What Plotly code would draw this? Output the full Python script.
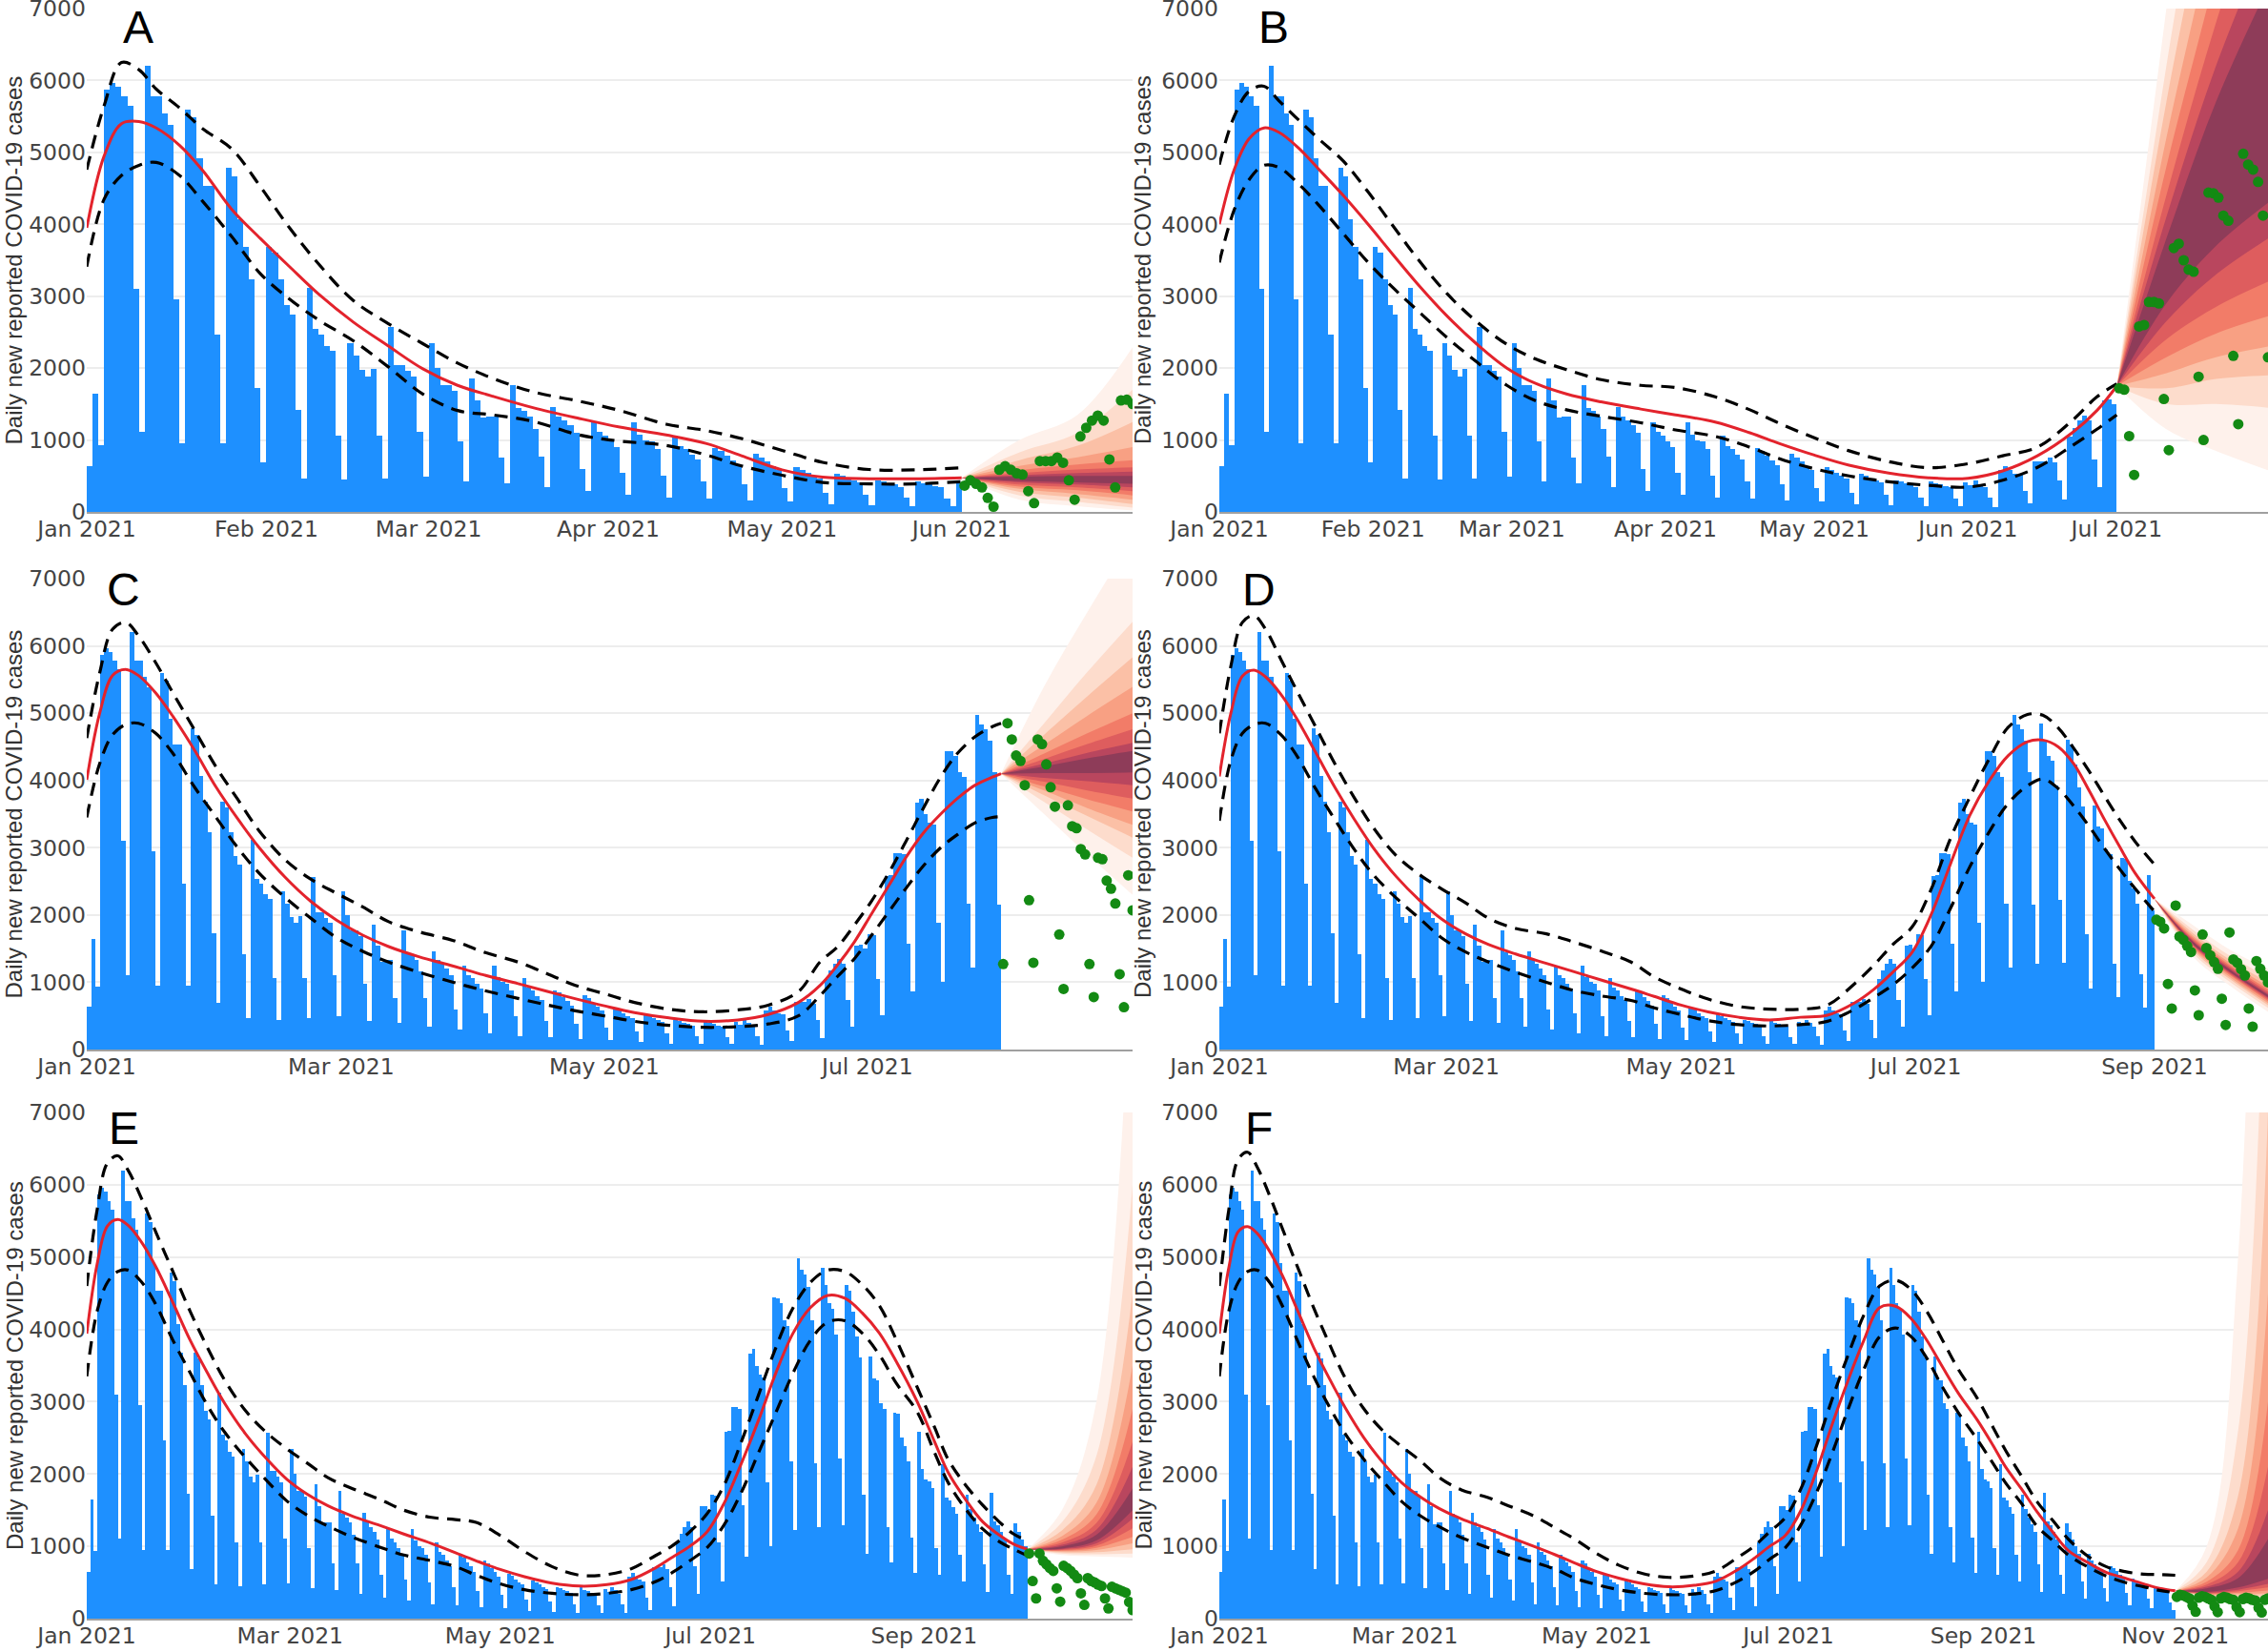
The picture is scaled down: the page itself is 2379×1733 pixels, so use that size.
import pandas as pd
import plotly.graph_objects as go

BASE = pd.Timestamp("2021-01-01")

# ---------------- daily reported cases, 2021-01-01 .. 2021-11-30 ----------------
cases = [
    640, 1650, 930,                              # Jan 1-3 (Fri-Sun)
    5870, 5960, 5910, 5780, 5650, 3100, 1110,    # Jan 4
    6200, 5780, 5780, 5540, 5380, 2950, 950,     # Jan 11
    5600, 5490, 4920, 4540, 4540, 2460, 950,     # Jan 18
    4780, 4670, 4070, 3680, 3230, 1730, 690,     # Jan 25
    3680, 3600, 3230, 2880, 2750, 1420, 470,     # Feb 1
    3120, 2540, 2460, 2310, 2240, 1060, 445,     # Feb 8
    2350, 2170, 1970, 1880, 1990, 1060, 470,     # Feb 15
    2570, 2040, 2040, 1960, 1885, 1110, 490,     # Feb 22
    2350, 2000, 1770, 1770, 1690, 980, 420,      # Mar 1
    1860, 1550, 1310, 1330, 1330, 760, 395,      # Mar 8
    1770, 1450, 1400, 1330, 1155, 770, 345,      # Mar 15
    1460, 1330, 1270, 1200, 1100, 600, 295,      # Mar 22
    1240, 1110, 1060, 980, 900, 540, 245,        # Mar 29
    1240, 1080, 1000, 980, 880, 500, 200,        # Apr 5
    1060, 920, 880, 800, 730, 430, 180,          # Apr 12
    885, 850, 780, 720, 650, 380, 160,           # Apr 19
    810, 760, 700, 640, 580, 330, 140,           # Apr 26
    620, 590, 540, 500, 470, 270, 110,           # May 3
    530, 500, 470, 440, 410, 240, 90,            # May 10
    440, 420, 400, 380, 350, 200, 80,            # May 17
    430, 400, 380, 360, 340, 190, 80,            # May 24
    415, 365, 440, 390, 340, 195, 73,            # May 31
    585, 635, 585, 537, 520, 290, 122,           # Jun 7
    707, 707, 707, 756, 683, 440, 170,           # Jun 14
    1050, 1170, 1270, 1340, 1270, 730, 340,      # Jun 21
    1550, 1560, 1500, 1720, 1700, 1055, 515,     # Jun 28
    2580, 2600, 2920, 2920, 2900, 1570, 860,     # Jul 5
    3670, 3730, 3500, 3370, 3340, 1880, 1000,    # Jul 12
    4440, 4430, 4370, 4120, 4050, 2170, 1220,    # Jul 19
    4980, 4830, 4760, 4590, 4120, 2150, 1270,    # Jul 26
    4850, 4610, 4370, 4290, 3930, 2220, 1290,    # Aug 2
    4610, 4540, 4240, 3900, 3610, 1710, 900,     # Aug 9
    3630, 3320, 3290, 2980, 2900, 1270, 780,     # Aug 16
    2850, 2830, 2510, 2390, 2170, 1120, 630,     # Aug 23
    2590, 2070, 1930, 1900, 1800, 975, 610,      # Aug 30
    2140, 1680, 1630, 1540, 1450, 880, 510,      # Sep 6
    1710, 1510, 1400, 1300, 1200, 755, 365,      # Sep 13
    1740, 1340, 1290, 1195, 1100, 610, 340,      # Sep 20
    1315, 1200, 1100, 1000, 900, 520, 280,       # Sep 27
    900, 800, 750, 700, 660, 420, 235,           # Oct 4
    730, 700, 660, 610, 560, 350, 190,           # Oct 11
    560, 520, 500, 470, 450, 280, 140,           # Oct 18
    440, 420, 400, 380, 360, 230, 117,           # Oct 25
    300, 330, 320, 300, 280, 180, 95,            # Nov 1
    290, 310, 300, 280, 260, 170, 90,            # Nov 8
    280, 300, 290, 270, 260, 160, 90,            # Nov 15
    270, 290, 280, 260, 250, 150, 85,            # Nov 22
    260, 280,                                    # Nov 29-30
]

panels = ["A", "B", "C", "D", "E", "F"]
train_end = dict(A=151, B=181, C=212, D=243, E=273, F=304)        # first forecast day
view_end = dict(A=180.5, B=211.5, C=242.5, D=272.5, E=303.5, F=333.5)
tick_step = dict(A="M1", B="M1", C="M2", D="M2", E="M2", F="M2")

# ---------------- fitted curves (day of year, value) ----------------
fit_days_A = [0, 3, 6, 9, 12, 16, 20, 25, 30, 35, 40, 46, 52, 58, 64, 70, 77, 85, 92, 100, 107, 113, 120, 127, 135, 143, 151]
fit_mid_A = [3950, 4950, 5400, 5430, 5340, 5100, 4750, 4210, 3800, 3410, 3030, 2640, 2310, 1990, 1760, 1610, 1450, 1300, 1180, 1070, 950, 780, 585, 485, 462, 462, 475]
fit_hi_A = [4760, 5650, 6250, 6150, 5880, 5620, 5330, 5050, 4520, 3950, 3450, 2940, 2620, 2340, 2070, 1860, 1670, 1540, 1410, 1220, 1130, 1020, 855, 690, 590, 585, 615]
fit_lo_A = [3410, 4350, 4680, 4820, 4860, 4680, 4320, 3830, 3310, 2960, 2670, 2380, 2020, 1640, 1410, 1350, 1260, 1070, 985, 925, 790, 640, 510, 410, 390, 390, 420]

fit_days_B = [0, 3, 6, 9, 12, 16, 20, 25, 30, 35, 40, 46, 52, 58, 64, 70, 77, 85, 92, 100, 107, 113, 120, 127, 135, 143, 151, 158, 165, 172, 177, 181]
fit_mid_B = [4000, 4760, 5190, 5340, 5280, 5060, 4770, 4400, 4000, 3580, 3170, 2720, 2330, 2000, 1780, 1640, 1530, 1430, 1350, 1250, 1100, 950, 790, 650, 540, 475, 467, 570, 780, 1100, 1410, 1750]
fit_hi_B = [4830, 5500, 5850, 5920, 5720, 5450, 5190, 4880, 4450, 3980, 3520, 3030, 2640, 2330, 2120, 1980, 1840, 1760, 1730, 1600, 1420, 1230, 1030, 850, 700, 615, 670, 780, 900, 1270, 1600, 1780]
fit_lo_B = [3470, 4200, 4620, 4820, 4790, 4560, 4270, 3870, 3470, 3120, 2800, 2420, 2080, 1760, 1540, 1420, 1330, 1240, 1140, 1050, 900, 740, 600, 500, 420, 370, 345, 440, 620, 920, 1150, 1350]

fit_days_C = [0, 3, 6, 9, 12, 16, 20, 25, 30, 35, 40, 46, 52, 58, 64, 70, 77, 85, 92, 100, 107, 113, 120, 127, 135, 143, 151, 158, 165, 170, 174, 178, 182, 186, 190, 194, 198, 202, 206, 210, 212]
fit_mid_C = [4010, 5000, 5560, 5650, 5560, 5300, 4950, 4450, 3900, 3430, 3000, 2560, 2200, 1920, 1700, 1530, 1380, 1240, 1110, 980, 860, 760, 650, 550, 470, 420, 440, 520, 700, 950, 1250, 1600, 2020, 2440, 2860, 3220, 3500, 3740, 3930, 4050, 4100]
fit_hi_C = [4630, 5600, 6250, 6350, 6150, 5750, 5300, 4750, 4200, 3720, 3250, 2820, 2530, 2320, 2120, 1900, 1750, 1620, 1450, 1300, 1120, 960, 830, 700, 600, 560, 590, 660, 860, 1300, 1520, 1850, 2210, 2630, 3100, 3590, 4050, 4410, 4650, 4800, 4850]
fit_lo_C = [3450, 4250, 4680, 4830, 4850, 4700, 4400, 3900, 3450, 3000, 2620, 2260, 1950, 1660, 1460, 1300, 1150, 1000, 880, 760, 660, 580, 500, 420, 360, 330, 340, 380, 500, 800, 1080, 1350, 1700, 2050, 2400, 2730, 3000, 3200, 3370, 3450, 3460]

fit_days_D = [0, 3, 6, 9, 12, 16, 20, 25, 30, 35, 40, 46, 52, 58, 64, 70, 77, 85, 92, 100, 107, 113, 120, 127, 135, 143, 151, 158, 165, 170, 175, 180, 185, 190, 195, 200, 205, 210, 214, 218, 222, 226, 230, 234, 238, 243]
fit_mid_D = [4060, 5000, 5550, 5640, 5540, 5280, 4930, 4420, 3900, 3430, 3000, 2570, 2220, 1930, 1720, 1560, 1420, 1280, 1160, 1020, 900, 790, 660, 560, 480, 440, 480, 510, 690, 890, 1150, 1445, 2010, 2760, 3480, 3990, 4370, 4575, 4600, 4500, 4250, 3850, 3420, 3010, 2620, 2240]
fit_hi_D = [4700, 5700, 6350, 6450, 6250, 5800, 5350, 4800, 4250, 3750, 3300, 2880, 2600, 2380, 2180, 1950, 1800, 1720, 1600, 1450, 1300, 1080, 900, 750, 640, 600, 600, 660, 975, 1250, 1560, 1820, 2385, 3140, 3750, 4315, 4790, 4980, 4970, 4780, 4480, 4140, 3770, 3410, 3090, 2750]
fit_lo_D = [3400, 4300, 4700, 4830, 4850, 4680, 4380, 3880, 3420, 2980, 2600, 2250, 1950, 1650, 1450, 1300, 1150, 1000, 880, 790, 730, 620, 520, 430, 370, 350, 370, 420, 598, 770, 960, 1210, 1540, 2100, 2715, 3230, 3660, 3920, 4020, 3880, 3620, 3320, 2990, 2680, 2390, 2050]

fit_days_E = [0, 3, 6, 9, 12, 16, 20, 25, 30, 35, 40, 46, 52, 58, 64, 70, 77, 85, 92, 100, 107, 113, 120, 127, 135, 143, 151, 158, 165, 170, 175, 180, 185, 190, 195, 200, 205, 210, 215, 220, 225, 230, 235, 241, 246, 250, 255, 260, 265, 269, 273]
fit_mid_E = [3940, 4900, 5430, 5520, 5440, 5200, 4870, 4370, 3850, 3400, 2980, 2560, 2220, 1930, 1720, 1560, 1420, 1290, 1170, 1040, 910, 800, 680, 580, 490, 450, 470, 540, 700, 850, 1000, 1200, 1600, 2150, 2750, 3400, 3950, 4300, 4470, 4430, 4230, 3950, 3550, 3000, 2450, 2020, 1650, 1340, 1150, 1030, 960]
fit_hi_E = [4600, 5650, 6300, 6400, 6200, 5800, 5350, 4800, 4250, 3750, 3300, 2880, 2580, 2350, 2150, 1950, 1800, 1650, 1500, 1400, 1370, 1330, 1150, 930, 720, 600, 610, 690, 870, 1010, 1200, 1450, 1850, 2450, 3100, 3750, 4300, 4650, 4820, 4800, 4620, 4330, 3850, 3200, 2650, 2200, 1850, 1570, 1330, 1170, 1080]
fit_lo_E = [3350, 4250, 4650, 4800, 4820, 4650, 4350, 3850, 3400, 2950, 2580, 2230, 1920, 1630, 1430, 1280, 1130, 990, 880, 800, 720, 600, 480, 400, 350, 330, 350, 400, 510, 640, 800, 980, 1300, 1750, 2300, 2850, 3400, 3850, 4100, 4120, 3950, 3650, 3250, 2860, 2300, 1880, 1520, 1240, 1060, 960, 870]

fit_days_F = [0, 3, 6, 9, 12, 16, 20, 25, 30, 35, 40, 46, 52, 58, 64, 70, 77, 85, 92, 100, 107, 113, 120, 127, 135, 143, 151, 158, 165, 170, 175, 180, 185, 190, 195, 200, 205, 210, 215, 220, 225, 230, 235, 241, 246, 250, 255, 260, 265, 270, 276, 282, 288, 294, 299, 304]
fit_mid_F = [3940, 4850, 5350, 5420, 5330, 5080, 4750, 4250, 3750, 3320, 2920, 2500, 2160, 1880, 1680, 1520, 1380, 1250, 1130, 1000, 880, 770, 650, 560, 480, 440, 460, 520, 680, 830, 1000, 1150, 1500, 2050, 2700, 3300, 3850, 4300, 4320, 4150, 3850, 3480, 3120, 2750, 2400, 2100, 1800, 1480, 1200, 940, 780, 640, 560, 480, 420, 385]
fit_hi_F = [4600, 5650, 6350, 6450, 6250, 5850, 5400, 4850, 4300, 3800, 3330, 2900, 2600, 2380, 2180, 1950, 1780, 1680, 1560, 1420, 1250, 1100, 900, 740, 620, 570, 590, 660, 850, 1000, 1200, 1400, 1800, 2400, 3050, 3650, 4200, 4600, 4680, 4550, 4250, 3850, 3450, 3050, 2650, 2330, 1980, 1620, 1360, 1100, 870, 720, 650, 615, 610, 600]
fit_lo_F = [3350, 4250, 4650, 4800, 4820, 4650, 4330, 3830, 3350, 2930, 2560, 2200, 1900, 1620, 1420, 1270, 1120, 990, 880, 780, 680, 560, 470, 400, 350, 330, 340, 390, 520, 650, 820, 980, 1300, 1750, 2300, 2900, 3450, 3900, 4020, 3900, 3600, 3200, 2850, 2480, 2150, 1880, 1600, 1280, 1080, 880, 720, 590, 500, 440, 390, 360]

fits = dict(
    A=(fit_days_A, fit_mid_A, fit_hi_A, fit_lo_A),
    B=(fit_days_B, fit_mid_B, fit_hi_B, fit_lo_B),
    C=(fit_days_C, fit_mid_C, fit_hi_C, fit_lo_C),
    D=(fit_days_D, fit_mid_D, fit_hi_D, fit_lo_D),
    E=(fit_days_E, fit_mid_E, fit_hi_E, fit_lo_E),
    F=(fit_days_F, fit_mid_F, fit_hi_F, fit_lo_F),
)

# ---------------- forecast fans: 16 quantiles (ascending) at 3 horizons ----------------
fan_days = dict(A=[151, 161, 171, 180.5], B=[181, 191, 201, 211.5], C=[212, 222, 232, 242.5],
                D=[243, 253, 263, 272.5], E=[273, 283, 293, 303.5], F=[304, 314, 324, 333.5])
fan_apex = dict(A=475, B=1750, C=4100, D=2240, E=960, F=385)
fan_q_A = [
    [170, 230, 280, 320, 350, 380, 410, 430, 490, 510, 540, 580, 640, 720, 830, 1000],
    [80, 140, 200, 250, 300, 340, 380, 410, 500, 540, 590, 660, 760, 920, 1100, 1350],
    [20, 60, 110, 170, 230, 290, 340, 390, 500, 560, 620, 720, 900, 1250, 1700, 2290],
]
fan_q_B = [
    [1150, 1500, 1720, 1930, 2150, 2400, 2650, 2900, 3800, 4100, 4400, 4800, 5200, 5700, 6200, 7000],
    [850, 1500, 1850, 2150, 2480, 2850, 3300, 3700, 5700, 6200, 6800, 7500, 8300, 9300, 10500, 12500],
    [580, 1450, 1900, 2300, 2720, 3200, 3800, 4300, 7300, 8000, 9000, 10500, 12000, 14000, 17000, 22000],
]
fan_q_C = [
    [3500, 3680, 3780, 3850, 3910, 3980, 4040, 4110, 4210, 4250, 4320, 4400, 4530, 4680, 4850, 5400],
    [2900, 3270, 3470, 3590, 3720, 3850, 3990, 4110, 4330, 4410, 4540, 4700, 4960, 5250, 5610, 6500],
    [2300, 2850, 3150, 3340, 3540, 3730, 3930, 4120, 4440, 4560, 4760, 5000, 5390, 5830, 6360, 7600],
]
fan_q_D = [
    [1380, 1430, 1470, 1500, 1520, 1540, 1555, 1570, 1600, 1615, 1635, 1660, 1690, 1730, 1780, 1850],
    [930, 990, 1030, 1060, 1090, 1110, 1125, 1140, 1170, 1190, 1215, 1240, 1275, 1320, 1380, 1470],
    [560, 620, 660, 690, 720, 745, 765, 780, 810, 830, 860, 895, 940, 1000, 1080, 1200],
]
fan_q_E = [
    [880, 900, 915, 930, 940, 950, 960, 970, 1000, 1020, 1050, 1090, 1140, 1220, 1330, 1500],
    [860, 890, 920, 950, 980, 1010, 1040, 1080, 1160, 1230, 1320, 1440, 1600, 1850, 2250, 3000],
    [845, 900, 960, 1040, 1130, 1250, 1380, 1500, 1800, 2100, 2450, 2900, 3500, 4500, 6000, 9500],
]
fan_q_F = [
    [300, 310, 320, 330, 340, 350, 360, 370, 420, 440, 470, 510, 570, 650, 780, 1000],
    [280, 300, 320, 340, 360, 380, 400, 430, 560, 650, 780, 950, 1250, 1700, 2600, 5000],
    [260, 290, 320, 350, 390, 430, 480, 550, 1100, 1500, 2100, 3000, 4500, 7000, 11000, 20000],
]
fan_q = dict(A=fan_q_A, B=fan_q_B, C=fan_q_C, D=fan_q_D, E=fan_q_E, F=fan_q_F)
fan_colors = ['#FEF1EB', '#FDDCCC', '#FBC0A6', '#F8A083', '#F27C68', '#DE5D5E', '#B9465E', '#8E3C59']

y_ticks = [0, 1000, 2000, 3000, 4000, 5000, 6000, 7000]
y_title = "Daily new reported COVID-19 cases"

# ---------------- layout geometry ----------------
col_x = [[0.03825, 0.49937], [0.53762, 1.0]]
row_y = [[0.69013, 0.99481], [0.36469, 0.64974], [0.02020, 0.32660]]
letter_pos = dict(A=(0.0610, 0.9838), B=(0.5615, 0.9838), C=(0.0545, 0.6430),
                  D=(0.5550, 0.6430), E=(0.0545, 0.3170), F=(0.5550, 0.3170))
title_x = [0.0065, 0.5040]


def day(d):
    return BASE + pd.Timedelta(days=d)


fig = go.Figure()
annotations = []
layout_axes = {}

for i, p in enumerate(panels):
    r, c = divmod(i, 2)
    sfx = "" if i == 0 else str(i + 1)
    xa, ya = "x" + sfx, "y" + sfx
    t0, tend = train_end[p], view_end[p]

    # bars (training window)
    bx = [day(d + 0.5) for d in range(t0)]
    fig.add_trace(go.Bar(x=bx, y=cases[:t0], marker=dict(color="#1E90FF", line=dict(width=0)),
                         xaxis=xa, yaxis=ya, showlegend=False, hoverinfo="skip"))

    # forecast fan
    fx = [day(d) for d in fan_days[p]]
    apex = fan_apex[p]
    qs = fan_q[p]
    for k in range(8):
        lo = [apex] + [q[k] for q in qs]
        hi = [apex] + [q[15 - k] for q in qs]
        fig.add_trace(go.Scatter(x=fx, y=lo, mode="lines", line=dict(width=0, shape="spline"),
                                 xaxis=xa, yaxis=ya, showlegend=False, hoverinfo="skip"))
        fig.add_trace(go.Scatter(x=fx, y=hi, mode="lines", line=dict(width=0, shape="spline"),
                                 fill="tonexty", fillcolor=fan_colors[k],
                                 xaxis=xa, yaxis=ya, showlegend=False, hoverinfo="skip"))

    # fitted curve and bounds
    fd, fm, fh, fl = fits[p]
    fxd = [day(d) for d in fd]
    fig.add_trace(go.Scatter(x=fxd, y=fm, mode="lines", line=dict(color="#E3232C", width=3, shape="spline"),
                             xaxis=xa, yaxis=ya, showlegend=False, hoverinfo="skip"))
    for arr in (fh, fl):
        fig.add_trace(go.Scatter(x=fxd, y=arr, mode="lines",
                                 line=dict(color="black", width=3.2, dash="14px,9px", shape="spline"),
                                 xaxis=xa, yaxis=ya, showlegend=False, hoverinfo="skip"))

    # observed data in forecast window
    last = int(tend)
    gx = [day(d + 0.5) for d in range(t0, last + 1)]
    fig.add_trace(go.Scatter(x=gx, y=cases[t0:last + 1], mode="markers",
                             marker=dict(color="#138A13", size=11),
                             xaxis=xa, yaxis=ya, showlegend=False, hoverinfo="skip"))

    layout_axes["xaxis" + sfx] = dict(
        domain=col_x[c], anchor=ya, type="date", range=[BASE, day(tend)],
        tick0="2021-01-01", dtick=tick_step[p], tickformat="%b %Y", automargin=False,
        showgrid=False, zeroline=False, showline=True, linecolor="#A0A0A0", linewidth=2,
        ticks="", ticklabelstandoff=-4,
        tickfont=dict(family="DejaVu Sans", size=23.5, color="#444"),
    )
    layout_axes["yaxis" + sfx] = dict(
        domain=row_y[r], anchor=xa, range=[0, 7000], tickvals=y_ticks, automargin=False,
        showgrid=True, gridcolor="#EDEDED", gridwidth=2, zeroline=False, showline=False,
        ticks="", ticklabeloverflow="allow",
        tickfont=dict(family="DejaVu Sans", size=23.5, color="#444"),
    )

    lx, ly = letter_pos[p]
    annotations.append(dict(text=p, x=lx, y=ly, xref="paper", yref="paper", showarrow=False,
                            xanchor="center", yanchor="middle",
                            font=dict(family="Liberation Sans, Arial", size=48, color="black")))
    annotations.append(dict(text=y_title, x=title_x[c], y=sum(row_y[r]) / 2, xref="paper", yref="paper",
                            showarrow=False, textangle=-90, xanchor="center", yanchor="middle",
                            font=dict(family="Liberation Sans, Arial", size=24, color="#333")))

fig.update_layout(
    width=2379, height=1733, autosize=False,
    margin=dict(l=0, r=0, t=0, b=0, autoexpand=False),
    paper_bgcolor="white", plot_bgcolor="white",
    bargap=0, showlegend=False,
    annotations=annotations,
    **layout_axes,
)

fig.write_html("out.html")
